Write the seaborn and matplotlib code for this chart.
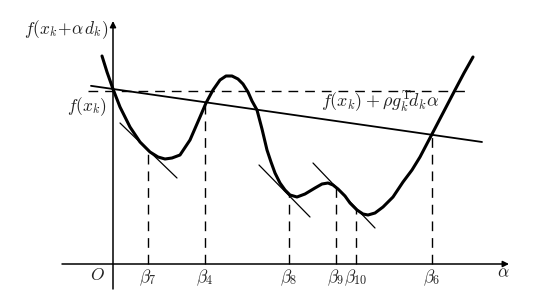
import numpy as np
import pandas as pd
import matplotlib
matplotlib.use("Agg")
import matplotlib.pyplot as plt
import seaborn as sns

# ---- data ----
alpha = [-1.1, -0.6, 0.0, 0.7, 1.7, 2.7, 3.7, 4.5, 5.2, 5.9, 6.7, 7.7, 8.7, 9.3, 10.0,
         10.7, 11.3, 11.9, 12.5, 13.0, 13.5, 13.9, 14.4, 14.9, 15.4, 15.8, 16.2, 16.7,
         17.2, 17.7, 18.4, 19.2, 20.2, 20.9, 21.5, 22.0, 22.5, 23.2, 23.7, 24.4, 25.0,
         25.5, 26.2, 27.0, 28.0, 29.0, 29.9, 30.7, 31.8, 33.0, 34.2, 35.1, 36.0]
f_val = [20.8, 19.2, 17.5, 15.7, 13.7, 12.2, 11.2, 10.7, 10.5, 10.6, 10.9, 12.4, 14.7,
         16.1, 17.4, 18.4, 18.8, 18.8, 18.5, 18.0, 17.2, 16.3, 15.4, 13.5, 11.4, 10.2,
         9.1, 8.1, 7.4, 6.9, 6.7, 7.0, 7.6, 8.0, 8.1, 7.9, 7.5, 6.8, 6.1, 5.4, 5.0, 4.9,
         5.1, 5.7, 6.7, 8.2, 9.4, 10.7, 12.8, 15.1, 17.4, 19.1, 20.7]

beta_names = [r"$\beta_7$", r"$\beta_4$", r"$\beta_8$", r"$\beta_9$", r"$\beta_{10}$", r"$\beta_6$"]
beta_pos = [3.5, 9.2, 17.6, 22.3, 24.3, 31.9]

f0 = 17.5            # f(x_k)
slope = -0.1436      # rho * g_k^T d_k
secant_range = [-2.2, 36.9]
dash_level = 17.35
dash_range = [-2.5, 35.7]

# tangent segments: (alpha0, f0, alpha1, f1)
tangent_a0 = [0.7, 14.6, 20.0]
tangent_f0 = [14.1, 9.9, 10.1]
tangent_a1 = [6.4, 19.7, 26.2]
tangent_f1 = [8.6, 4.7, 3.6]

# ---- figure ----
sns.set_style("white")
plt.rcParams["mathtext.fontset"] = "cm"
plt.rcParams["font.family"] = ["DejaVu Serif"]

fig = plt.figure(figsize=(5.42, 3.0), dpi=100)
ax = fig.add_axes([0, 0, 1, 1])

TXT = "#222222"

# axes with arrows
ax.annotate("", xy=(39.6, 0), xytext=(-5.1, 0),
            arrowprops=dict(arrowstyle="-|>", color="black", lw=1.1, mutation_scale=9, shrinkA=0, shrinkB=0))
ax.annotate("", xy=(0, 24.3), xytext=(0, -2.5),
            arrowprops=dict(arrowstyle="-|>", color="black", lw=1.1, mutation_scale=9, shrinkA=0, shrinkB=0))

# dashed horizontal at f(x_k)
ax.plot(dash_range, [dash_level, dash_level], color="black", lw=1.0, ls=(0, (7, 5)))

# secant line
sec_x = np.array(secant_range)
ax.plot(sec_x, f0 + slope * sec_x, color="black", lw=1.3)

# tangent segments
for a0, y0, a1, y1 in zip(tangent_a0, tangent_f0, tangent_a1, tangent_f1):
    ax.plot([a0, a1], [y0, y1], color="black", lw=0.9)

# vertical dashed lines to the curve
for b in beta_pos:
    h = np.interp(b, alpha, f_val)
    ax.plot([b, b], [0, h], color="black", lw=1.0, ls=(0, (7, 5)))

# main curve
df = pd.DataFrame({"alpha": alpha, "f": f_val})
sns.lineplot(data=df, x="alpha", y="f", ax=ax, color="black", lw=2.2, sort=False,
             estimator=None)
ax.lines[-1].set_solid_joinstyle("round")
ax.lines[-1].set_solid_capstyle("round")
ax.set_xlim(-11.3, 42.9)
ax.set_ylim(-3.6, 26.4)
ax.axis("off")

# labels
fs = 12.5
ax.text(-0.5, 23.4, r"$f(x_k\!+\!\alpha\, d_k)$", ha="right", va="center", fontsize=fs, color=TXT)
ax.text(-0.6, 15.7, r"$f(x_k)$", ha="right", va="center", fontsize=fs, color=TXT)
ax.text(26.7, 16.2, r"$f(x_k)+\rho g_k^{\mathrm{T}}\! d_k\alpha$", ha="center", va="center",
        fontsize=13, color=TXT)
ax.text(-1.6, -1.1, r"$O$", ha="center", va="center", fontsize=fs, color=TXT)
for name, b in zip(beta_names, beta_pos):
    ax.text(b, -1.4, name, ha="center", va="center", fontsize=fs, color=TXT)
ax.text(39.0, -0.9, r"$\alpha$", ha="center", va="center", fontsize=fs, color=TXT)

fig.savefig("out.png", dpi=100)
